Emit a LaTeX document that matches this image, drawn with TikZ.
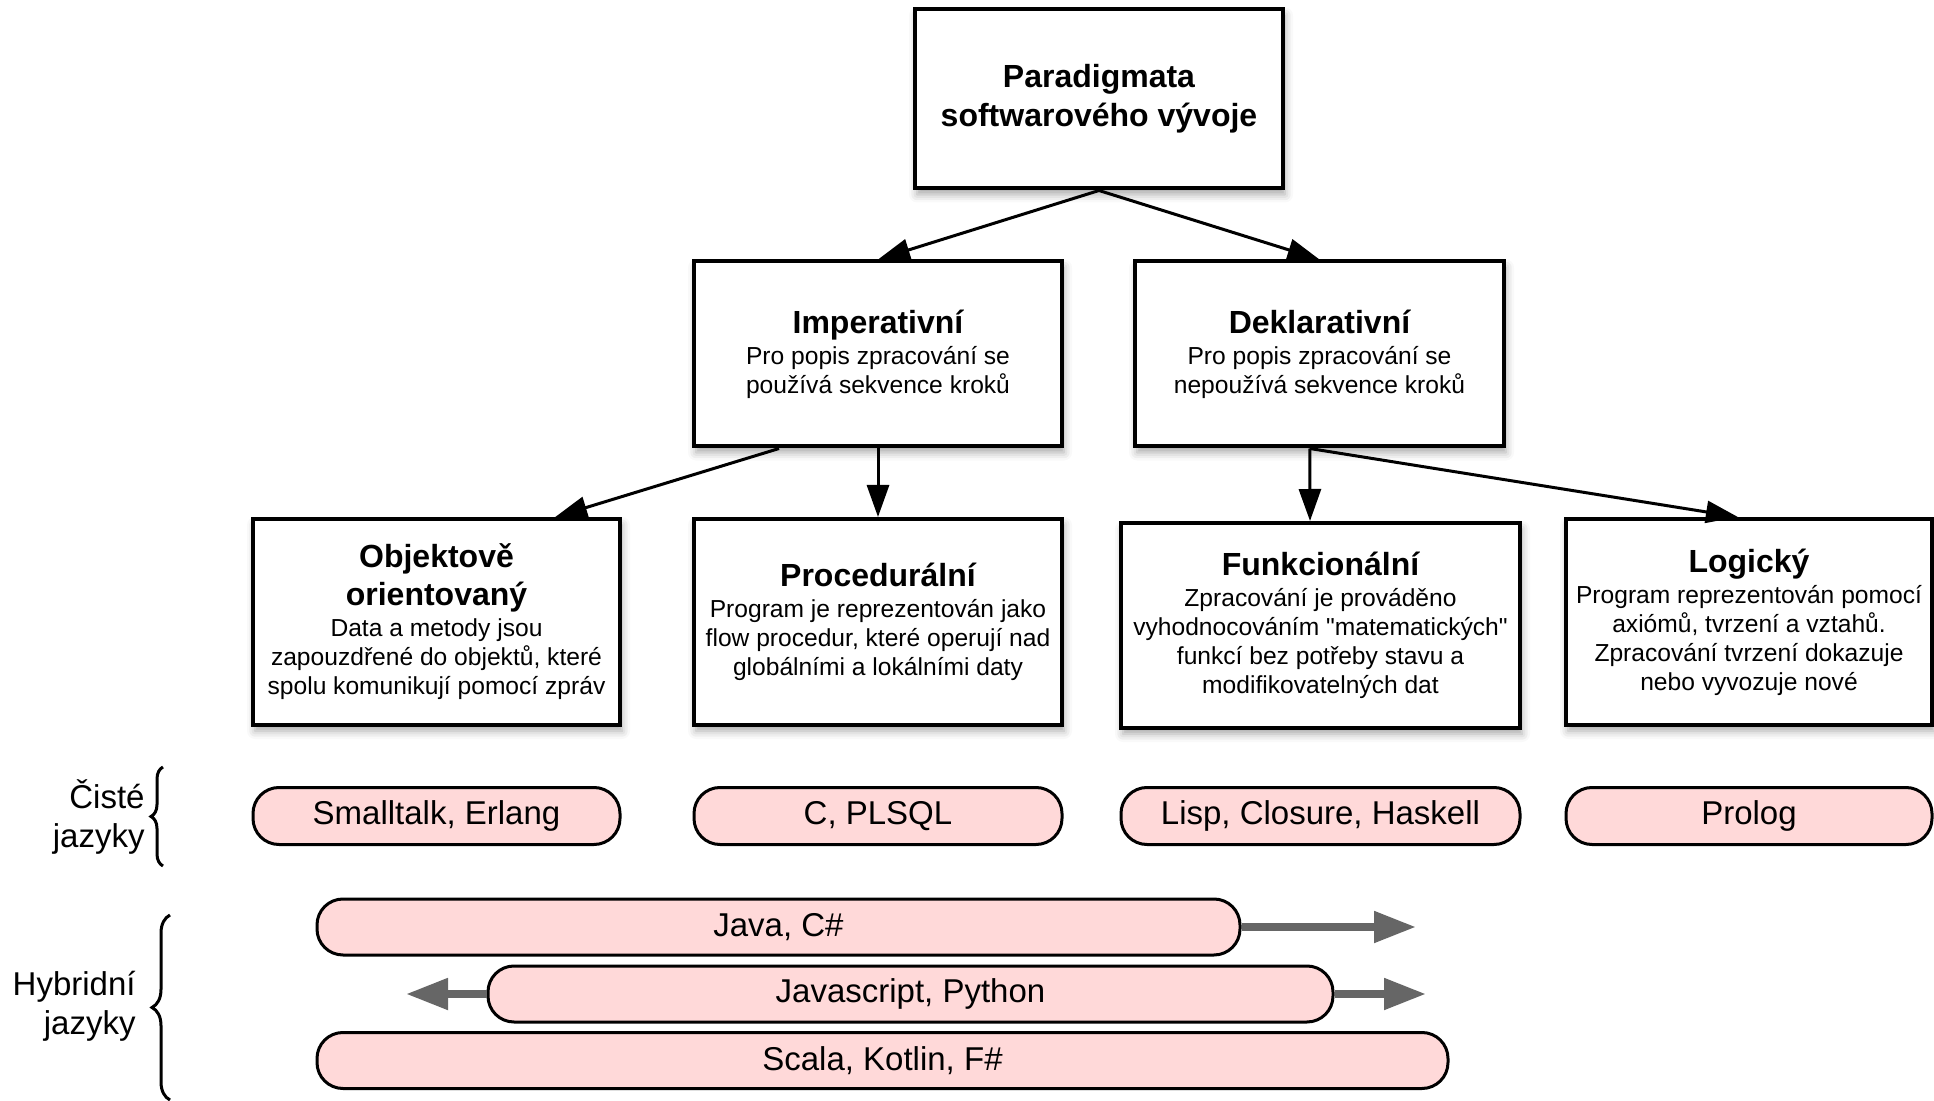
\documentclass[tikz,border=0pt]{standalone}
\usepackage{fontspec}
\setmainfont{Liberation Sans}[Ligatures=TeXOff]
\usetikzlibrary{arrows.meta,calc,shadows.blur,decorations.pathreplacing}

\definecolor{pillfill}{HTML}{FFD9D9}
\definecolor{arrowgray}{HTML}{666666}

\tikzset{
  box/.style={draw=black, line width=2pt, fill=white, inner sep=0pt, align=center,
    font=\fontsize{12.3}{14.5}\selectfont,
    blur shadow={shadow xshift=1pt, shadow yshift=-3pt, shadow blur radius=4pt, shadow opacity=35}},
  pillbox/.style={draw=black, line width=1.5pt, fill=pillfill, rounded corners=13pt,
    inner sep=0pt, minimum height=28pt, font=\fontsize{16.5}{19}\selectfont},
  link/.style={line width=1.5pt, -{Triangle[length=16pt,width=11pt]}},
  grayarr/.style={draw=arrowgray, line width=4pt, -{Triangle[length=21pt,width=15pt]}},
  bracket/.style={decorate, line width=1.5pt},
  sidelabel/.style={align=right, anchor=east, inner sep=0pt, font=\fontsize{16.5}{19.5}\selectfont}
}
\newcommand{\ttl}[1]{{\fontsize{16}{19}\selectfont\bfseries #1}}

\begin{document}
\begin{tikzpicture}[x=0.5pt,y=-0.5pt]
  \useasboundingbox (0,0) rectangle (1934,1101);

  % paradigm tree
  \node[box, minimum width=184pt, minimum height=89.5pt,
        font=\fontsize{16}{19.5}\selectfont\bfseries] (root) at (1099,99)
        {Paradigmata\\softwarového vývoje};
  \node[box, minimum width=184pt, minimum height=92.5pt] (imp) at (878,354)
        {\ttl{Imperativní}\\[1pt]Pro popis zpracování se\\používá sekvence kroků};
  \node[box, minimum width=184.5pt, minimum height=92.5pt] (dek) at (1319.5,354)
        {\ttl{Deklarativní}\\[1pt]Pro popis zpracování se\\nepoužívá sekvence kroků};
  \node[box, minimum width=183.5pt, minimum height=103pt] (obj) at (436.5,622)
        {\ttl{Objektově}\\[3pt]\ttl{orientovaný}\\[1pt]Data a metody jsou\\zapouzdřené do objektů, které\\spolu komunikují pomocí zpráv};
  \node[box, minimum width=184pt, minimum height=103pt] (proc) at (878,622)
        {\ttl{Procedurální}\\[1pt]Program je reprezentován jako\\flow procedur, které operují nad\\globálními a lokálními daty};
  \node[box, minimum width=199.5pt, minimum height=102.5pt] (funk) at (1320.5,625.5)
        {\ttl{Funkcionální}\\[1pt]Zpracování je prováděno\\vyhodnocováním "matematických"\\funkcí bez potřeby stavu a\\modifikovatelných dat};
  \node[box, minimum width=183pt, minimum height=103pt] (log) at (1749,622)
        {\ttl{Logický}\\[1pt]Program reprezentován pomocí\\axiómů, tvrzení a vztahů.\\Zpracování tvrzení dokazuje\\nebo vyvozuje nové};

  % tree connectors
  \draw[link] (root.south) -- (imp.north);
  \draw[link] (root.south) -- (dek.north);
  \draw[link] ($(imp.south west)!0.234!(imp.south east)$) -- ($(obj.north west)!0.82!(obj.north east)$);
  \draw[link] (imp.south) -- (proc.north);
  \draw[link] ($(dek.south west)!0.474!(dek.south east)$) -- ($(funk.north west)!0.474!(funk.north east)$);
  \draw[link] ($(dek.south west)!0.474!(dek.south east)$) -- ($(log.north west)!0.47!(log.north east)$);

  % pure languages
  \node[pillbox, minimum width=183.5pt, minimum height=28.5pt] (smalltalk) at (436.5,816) {Smalltalk, Erlang};
  \node[pillbox, minimum width=184pt, minimum height=28.5pt] (plsql) at (878,816) {C, PLSQL};
  \node[pillbox, minimum width=199.5pt, minimum height=28.5pt] (lisp) at (1320.5,816) {Lisp, Closure, Haskell};
  \node[pillbox, minimum width=183pt, minimum height=28.5pt] (prolog) at (1749,816) {Prolog};

  % hybrid languages
  \coordinate (javaend) at (1416,927);
  \coordinate (jsright) at (1426,994);
  \coordinate (jsleft) at (406,994);
  \node[pillbox, minimum width=461.5pt] (java) at (778.5,927) {Java, C\#};
  \node[pillbox, minimum width=422.5pt] (js) at (910.5,994) {Javascript, Python};
  \node[pillbox, minimum width=565.5pt] (scala) at (882.5,1060.5) {Scala, Kotlin, F\#};
  \draw[grayarr] (java.east) -- (javaend);
  \draw[grayarr] (js.east) -- (jsright);
  \draw[grayarr] (js.west) -- (jsleft);

  % group labels with braces
  \node[sidelabel] (lblpure) at (145,817) {Čisté\\jazyky};
  \node[sidelabel] (lblhyb) at (136,1006) {Hybridní\\jazyky};
  \coordinate (purebot) at (163,866);
  \coordinate (puretop) at (163,767);
  \coordinate (hybbot) at (170,1100);
  \coordinate (hybtop) at (170,915);
  \draw[bracket, decoration={brace, amplitude=6pt}] (purebot) -- (puretop);
  \draw[bracket, decoration={brace, amplitude=9pt}] (hybbot) -- (hybtop);
\end{tikzpicture}
\end{document}
